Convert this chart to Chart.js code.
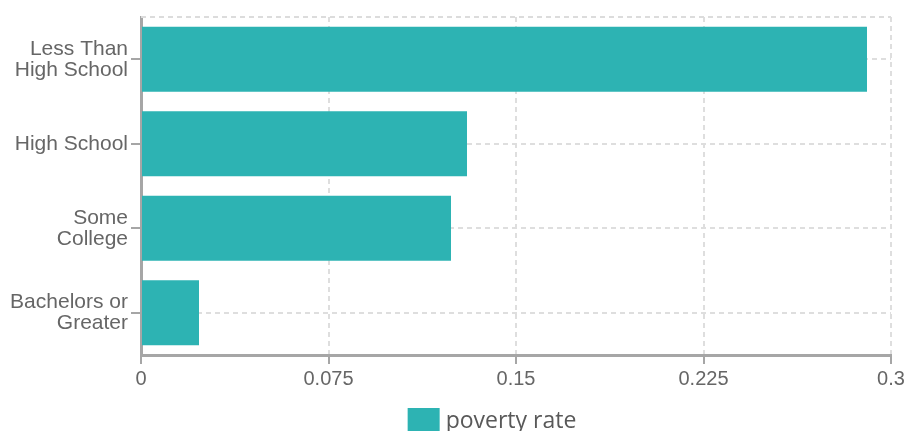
<!DOCTYPE html>
<html>
<head>
<meta charset="utf-8">
<script src="https://cdn.jsdelivr.net/npm/chart.js@4/dist/chart.umd.min.js"></script>
<style>
html,body{margin:0;padding:0;background:#fff;}
#wrap{width:908px;height:431px;position:relative;}
</style>
</head>
<body>
<div id="wrap"><canvas id="c" width="908" height="431"></canvas></div>
<script>
const categories = [["Less Than","High School"],["High School"],["Some","College"],["Bachelors or","Greater"]];
const seriesName = "poverty rate";
const povertyRate = [0.2904, 0.1304, 0.124, 0.0232];
const xTicks = [0, 0.075, 0.15, 0.225, 0.3];

const frameTop = {
  id:'frameTop',
  beforeDatasetsDraw(chart){
    const {ctx, chartArea:a} = chart;
    ctx.save();
    ctx.strokeStyle = '#dcdcdc';
    ctx.lineWidth = 2;
    ctx.setLineDash([5,4]);
    ctx.beginPath();
    ctx.moveTo(a.left, a.top); ctx.lineTo(a.right, a.top);
    ctx.stroke();
    ctx.restore();
  }
};

const customLegend = {
  id:'customLegend',
  afterDraw(chart){
    const {ctx} = chart;
    const ds = chart.data.datasets[0];
    ctx.save();
    ctx.font = '23px "Open Sans", sans-serif';
    const tw = ctx.measureText(ds.label).width;
    const boxW = 32, boxH = 24, gap = 6;
    const total = boxW + gap + tw;
    const cx = chart.width / 2 + 38;
    const x0 = cx - total / 2;
    const yTop = chart.chartArea.bottom + 53;
    ctx.fillStyle = ds.backgroundColor;
    ctx.fillRect(x0, yTop, boxW, boxH);
    ctx.fillStyle = '#595959';
    ctx.textBaseline = 'alphabetic';
    ctx.textAlign = 'left';
    ctx.fillText(ds.label, x0 + boxW + gap, yTop + 20);
    ctx.restore();
  }
};

new Chart(document.getElementById('c'), {
  type:'bar',
  data:{
    labels:categories,
    datasets:[{
      label:seriesName,
      data:povertyRate,
      backgroundColor:'#2db3b3',
      borderWidth:0,
      categoryPercentage:0.77,
      barPercentage:1
    }]
  },
  options:{
    indexAxis:'y',
    responsive:false,
    animation:false,
    devicePixelRatio:1,
    layout:{padding:{top:17,right:17,left:0,bottom:32}},
    plugins:{
      tooltip:{enabled:false},
      legend:{display:false}
    },
    scales:{
      x:{
        min:0, max:0.3,
        afterBuildTicks(s){ s.ticks = xTicks.map(v=>({value:v})); },
        afterFit(s){ s.height = 44; },
        border:{display:true, color:'#a6a6a6', width:3, dash:[5,4]},
        grid:{color:'#dedede', lineWidth:2, drawTicks:true, tickLength:9, tickColor:'#a6a6a6', tickWidth:2, tickBorderDash:[]},
        ticks:{color:'#666', font:{family:'"Liberation Sans", Arial, sans-serif', size:20}, padding:3,
          callback:(v)=>String(+v.toFixed(3))}
      },
      y:{
        afterFit(s){ s.width = 141; s.paddingTop = 0; s.paddingBottom = 0; },
        border:{display:true, color:'#a6a6a6', width:3, dash:[5,4]},
        grid:{color:'#dedede', lineWidth:2, offset:false, drawTicks:true, tickLength:10, tickColor:'#a6a6a6', tickWidth:2, tickBorderDash:[]},
        ticks:{color:'#666', font:{family:'"Liberation Sans", Arial, sans-serif', size:21, lineHeight:1.0}, padding:3}
      }
    }
  },
  plugins:[frameTop, customLegend]
});
</script>
</body>
</html>
